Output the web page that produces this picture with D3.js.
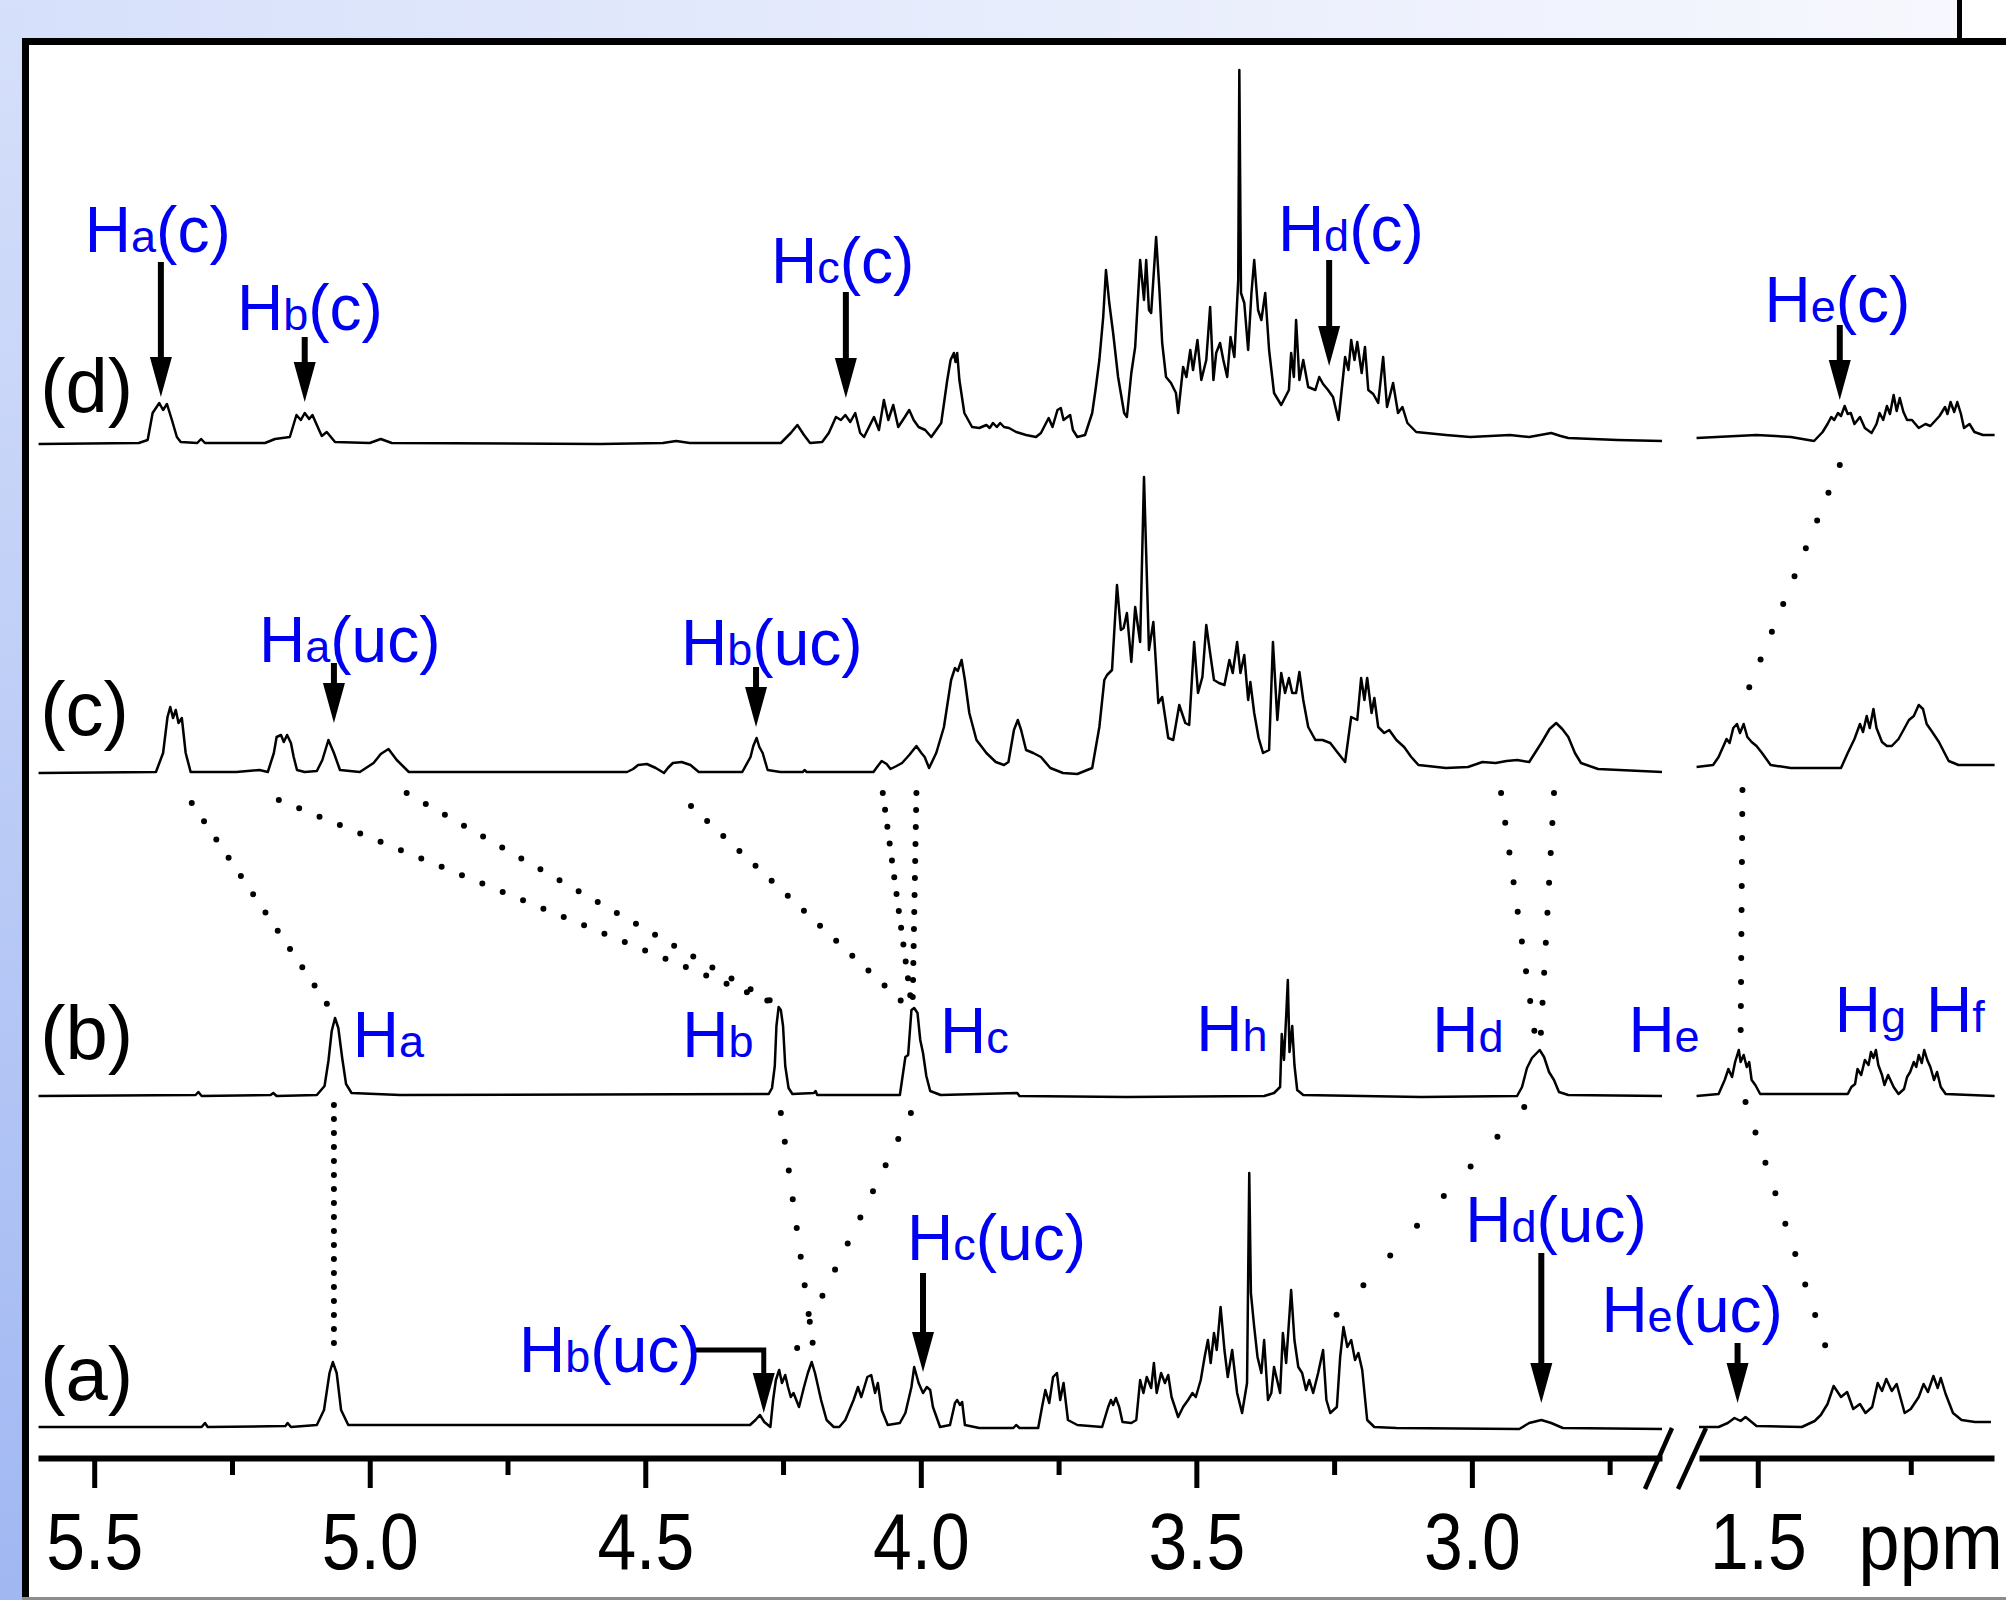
<!DOCTYPE html>
<html><head><meta charset="utf-8">
<script src="https://cdn.jsdelivr.net/npm/d3@7"></script>
<style>
html,body{margin:0;padding:0;background:#fff;}
svg{display:block;}
text{font-family:"Liberation Sans",Arial,Helvetica,sans-serif;}
</style></head><body>
<svg id="chart" width="2006" height="1600"></svg>
<script>
// ---------------- DATA (ppm, intensity a.u.) ----------------
const spectrumNames = ["(a)", "(b)", "(c)", "(d)"];
const majorTicksLeft = [5.5, 5.0, 4.5, 4.0, 3.5, 3.0];
const minorTicksLeft = [5.25, 4.75, 4.25, 3.75, 3.25, 2.75];
const majorTicksRight = [1.5];
const minorTicksRight = [1.25];
const axisUnit = "ppm";

const specD_left = [[5.601,0],[5.419,1],[5.403,4],[5.394,31],[5.382,41],[5.375,34],[5.368,40],[5.359,24],[5.350,7],[5.343,2],[5.313,1],[5.306,5],[5.299,1],[5.190,1],[5.172,5],[5.145,7],[5.133,29],[5.125,24],[5.118,31],[5.110,25],[5.104,29],[5.092,14],[5.087,8],[5.078,12],[5.063,2],[5.000,1],[4.980,5],[4.960,1],[4.582,0],[4.468,1],[4.444,3],[4.419,1],[4.254,1],[4.236,11],[4.224,19],[4.212,9],[4.201,1],[4.179,2],[4.167,11],[4.154,27],[4.145,24],[4.137,29],[4.128,22],[4.119,31],[4.110,11],[4.103,7],[4.094,17],[4.085,27],[4.076,14],[4.067,44],[4.059,24],[4.050,39],[4.041,17],[4.029,27],[4.021,34],[4.013,24],[4.004,17],[3.992,14],[3.981,7],[3.963,21],[3.952,64],[3.946,84],[3.940,91],[3.937,82],[3.934,91],[3.930,64],[3.921,31],[3.907,17],[3.894,16],[3.881,19],[3.875,16],[3.869,21],[3.862,17],[3.856,21],[3.849,17],[3.840,16],[3.827,12],[3.809,9],[3.791,7],[3.782,11],[3.768,26],[3.761,17],[3.752,34],[3.746,36],[3.741,24],[3.729,29],[3.724,14],[3.716,7],[3.702,9],[3.689,31],[3.683,54],[3.676,84],[3.669,127],[3.664,174],[3.658,141],[3.651,111],[3.642,67],[3.631,31],[3.626,27],[3.618,71],[3.611,97],[3.602,184],[3.595,144],[3.591,184],[3.586,134],[3.582,131],[3.573,207],[3.567,154],[3.562,101],[3.555,67],[3.546,61],[3.537,51],[3.533,31],[3.524,77],[3.518,67],[3.511,94],[3.506,74],[3.498,104],[3.491,64],[3.482,84],[3.475,137],[3.469,64],[3.464,91],[3.457,101],[3.451,84],[3.444,67],[3.438,107],[3.431,87],[3.424,164],[3.422,374],[3.419,151],[3.413,141],[3.406,94],[3.400,151],[3.395,184],[3.388,134],[3.382,124],[3.375,151],[3.368,94],[3.359,51],[3.346,39],[3.332,54],[3.328,91],[3.323,67],[3.319,124],[3.313,64],[3.306,84],[3.297,57],[3.284,54],[3.277,67],[3.270,60],[3.261,54],[3.252,47],[3.242,24],[3.230,87],[3.224,74],[3.219,104],[3.213,84],[3.208,102],[3.200,71],[3.194,97],[3.188,54],[3.179,50],[3.170,41],[3.161,87],[3.154,37],[3.143,61],[3.134,31],[3.126,37],[3.117,21],[3.101,12],[3.047,9],[3.003,7],[2.931,9],[2.896,7],[2.876,9],[2.856,11],[2.839,8],[2.825,6],[2.736,4],[2.655,3]];
const specD_right = [[1.600,6],[1.502,9],[1.446,7],[1.408,3],[1.394,12],[1.386,20],[1.380,27],[1.375,24],[1.369,31],[1.364,28],[1.358,38],[1.353,30],[1.348,31],[1.342,20],[1.333,27],[1.325,16],[1.314,11],[1.306,20],[1.301,31],[1.295,24],[1.289,38],[1.284,30],[1.278,49],[1.273,33],[1.268,46],[1.262,32],[1.256,24],[1.248,24],[1.237,16],[1.226,20],[1.218,18],[1.209,24],[1.203,28],[1.194,37],[1.190,30],[1.185,42],[1.179,32],[1.174,42],[1.168,30],[1.163,16],[1.154,20],[1.146,12],[1.132,9],[1.113,9]];

const specC_left = [[5.601,0],[5.388,1],[5.375,20],[5.367,56],[5.362,66],[5.357,55],[5.352,63],[5.347,50],[5.341,55],[5.334,20],[5.325,1],[5.242,1],[5.200,3],[5.185,1],[5.174,20],[5.169,36],[5.161,38],[5.156,31],[5.150,38],[5.143,30],[5.138,16],[5.132,3],[5.118,1],[5.096,2],[5.086,13],[5.075,33],[5.065,20],[5.054,3],[5.018,1],[4.993,10],[4.980,19],[4.966,24],[4.951,13],[4.929,1],[4.533,1],[4.522,4],[4.513,8],[4.497,9],[4.481,5],[4.466,0],[4.459,5],[4.450,10],[4.434,11],[4.418,8],[4.403,1],[4.324,1],[4.309,16],[4.304,27],[4.298,35],[4.293,26],[4.287,20],[4.278,3],[4.255,1],[4.214,1],[4.211,3],[4.207,1],[4.086,1],[4.078,7],[4.071,12],[4.062,9],[4.055,4],[4.044,7],[4.034,10],[4.021,18],[4.008,27],[3.999,20],[3.993,16],[3.985,5],[3.972,20],[3.958,46],[3.945,93],[3.938,105],[3.933,102],[3.926,113],[3.920,93],[3.912,60],[3.899,33],[3.881,20],[3.864,11],[3.849,8],[3.841,11],[3.831,43],[3.824,53],[3.818,43],[3.809,23],[3.796,20],[3.782,16],[3.765,5],[3.742,0],[3.716,-1],[3.689,5],[3.676,46],[3.667,93],[3.662,98],[3.653,103],[3.644,188],[3.637,143],[3.632,145],[3.626,160],[3.618,111],[3.611,166],[3.602,131],[3.595,296],[3.590,200],[3.586,123],[3.578,151],[3.569,70],[3.562,76],[3.551,35],[3.542,33],[3.531,68],[3.520,50],[3.513,48],[3.504,131],[3.497,80],[3.489,96],[3.482,148],[3.475,120],[3.468,93],[3.459,90],[3.449,88],[3.440,113],[3.434,100],[3.426,131],[3.420,100],[3.413,118],[3.406,73],[3.402,91],[3.395,60],[3.387,35],[3.379,20],[3.368,23],[3.361,131],[3.353,53],[3.346,100],[3.339,80],[3.332,95],[3.326,80],[3.319,80],[3.313,101],[3.306,73],[3.297,46],[3.284,33],[3.271,33],[3.257,30],[3.243,20],[3.230,11],[3.219,56],[3.208,53],[3.201,95],[3.195,73],[3.190,95],[3.182,60],[3.177,75],[3.170,46],[3.159,40],[3.150,43],[3.137,33],[3.123,26],[3.110,16],[3.097,8],[3.047,5],[3.007,6],[2.981,11],[2.957,10],[2.937,12],[2.918,13],[2.896,11],[2.874,30],[2.859,44],[2.847,50],[2.836,44],[2.825,36],[2.813,20],[2.802,10],[2.771,4],[2.655,1]];
const specC_right = [[1.600,6],[1.573,8],[1.564,16],[1.556,27],[1.551,34],[1.546,30],[1.540,45],[1.534,49],[1.529,40],[1.523,49],[1.517,36],[1.510,31],[1.502,27],[1.493,20],[1.479,8],[1.446,5],[1.364,5],[1.353,20],[1.342,34],[1.333,49],[1.328,41],[1.322,57],[1.317,45],[1.311,64],[1.306,45],[1.297,31],[1.289,27],[1.281,27],[1.270,34],[1.261,44],[1.253,53],[1.245,57],[1.237,68],[1.230,64],[1.224,49],[1.216,42],[1.204,31],[1.188,12],[1.172,8],[1.113,8]];

const specB_left = [[5.601,0],[5.316,1],[5.311,4],[5.305,0],[5.180,1],[5.175,3],[5.169,0],[5.096,1],[5.082,10],[5.075,35],[5.069,65],[5.063,78],[5.057,68],[5.050,38],[5.043,12],[5.033,3],[4.945,1],[4.276,2],[4.270,8],[4.265,30],[4.262,70],[4.258,89],[4.254,86],[4.250,70],[4.246,30],[4.240,8],[4.233,2],[4.194,3],[4.191,5],[4.188,1],[4.038,1],[4.028,39],[4.023,41],[4.017,86],[4.012,88],[4.006,83],[4.001,56],[3.996,43],[3.990,20],[3.983,5],[3.964,1],[3.825,3],[3.821,0],[3.627,-1],[3.377,0],[3.359,3],[3.348,9],[3.345,62],[3.341,36],[3.337,80],[3.334,116],[3.331,44],[3.326,70],[3.322,31],[3.317,6],[3.306,1],[3.092,-1],[2.918,0],[2.909,9],[2.900,28],[2.891,38],[2.877,46],[2.869,39],[2.860,24],[2.851,16],[2.842,4],[2.825,1],[2.655,0]];
const specB_right = [[1.600,0],[1.564,2],[1.559,9],[1.554,16],[1.548,27],[1.542,19],[1.537,34],[1.531,46],[1.528,34],[1.523,41],[1.518,29],[1.514,34],[1.510,16],[1.504,11],[1.496,2],[1.353,2],[1.347,9],[1.341,12],[1.337,27],[1.331,21],[1.325,36],[1.319,31],[1.315,44],[1.311,38],[1.307,46],[1.303,31],[1.297,21],[1.293,11],[1.287,21],[1.278,9],[1.270,2],[1.261,7],[1.256,19],[1.251,24],[1.245,34],[1.241,29],[1.237,41],[1.232,33],[1.228,46],[1.223,36],[1.218,29],[1.212,16],[1.207,24],[1.201,9],[1.193,2],[1.113,0]];

const specA_left = [[5.601,0],[5.305,0],[5.299,4],[5.294,0],[5.153,1],[5.149,4],[5.143,0],[5.096,2],[5.083,17],[5.073,54],[5.067,65],[5.060,54],[5.052,17],[5.039,2],[4.310,2],[4.300,7],[4.292,12],[4.284,5],[4.273,0],[4.268,27],[4.263,47],[4.257,57],[4.252,44],[4.246,52],[4.241,40],[4.236,30],[4.231,34],[4.221,20],[4.212,40],[4.205,54],[4.198,65],[4.192,54],[4.181,27],[4.171,7],[4.158,0],[4.148,0],[4.137,7],[4.122,27],[4.114,40],[4.108,30],[4.097,50],[4.090,52],[4.083,34],[4.078,44],[4.071,17],[4.060,2],[4.038,4],[4.028,14],[4.017,40],[4.012,60],[4.004,44],[3.996,34],[3.989,40],[3.983,37],[3.978,20],[3.965,0],[3.947,2],[3.938,24],[3.934,27],[3.929,22],[3.925,25],[3.920,2],[3.894,-1],[3.832,-1],[3.827,2],[3.821,-1],[3.787,-1],[3.780,20],[3.774,37],[3.767,24],[3.760,50],[3.753,54],[3.747,27],[3.741,44],[3.733,7],[3.716,2],[3.671,0],[3.660,20],[3.655,27],[3.651,22],[3.646,29],[3.640,20],[3.634,5],[3.618,4],[3.609,7],[3.602,47],[3.596,34],[3.590,50],[3.582,39],[3.577,64],[3.572,34],[3.564,54],[3.557,44],[3.551,52],[3.545,30],[3.533,10],[3.524,20],[3.515,27],[3.507,34],[3.501,30],[3.492,47],[3.485,70],[3.479,87],[3.474,64],[3.468,94],[3.463,77],[3.456,120],[3.449,77],[3.443,50],[3.435,77],[3.426,34],[3.417,14],[3.408,44],[3.404,254],[3.401,134],[3.395,100],[3.389,70],[3.382,54],[3.377,87],[3.370,27],[3.364,34],[3.359,60],[3.348,34],[3.343,94],[3.337,64],[3.328,137],[3.322,87],[3.315,60],[3.308,54],[3.301,37],[3.295,47],[3.288,34],[3.279,54],[3.270,77],[3.264,27],[3.257,14],[3.245,20],[3.239,70],[3.233,100],[3.226,80],[3.219,87],[3.212,67],[3.206,74],[3.199,57],[3.190,7],[3.177,0],[3.137,-1],[2.914,-2],[2.896,4],[2.874,7],[2.856,4],[2.835,-1],[2.655,-2]];
const specA_right = [[1.596,0],[1.564,0],[1.549,4],[1.538,9],[1.528,6],[1.520,10],[1.512,6],[1.502,1],[1.428,0],[1.407,6],[1.397,12],[1.386,23],[1.376,41],[1.364,30],[1.354,35],[1.344,18],[1.333,23],[1.324,14],[1.313,20],[1.304,44],[1.297,36],[1.290,48],[1.281,36],[1.273,43],[1.260,14],[1.250,18],[1.237,30],[1.229,43],[1.222,35],[1.213,51],[1.206,39],[1.201,49],[1.193,33],[1.181,14],[1.167,7],[1.145,5],[1.119,5]];

// peak annotations: [main, subscript, rest, spectrum, ppm, level]
const peakLabels = [
  ["H","a","(c)","d",5.517,192],["H","b","(c)","d",5.241,114],["H","c","(c)","d",4.272,161],
  ["H","d","(c)","d",3.352,193],["H","e","(c)","d",1.489,122],
  ["H","a","(uc)","c",5.201,111],["H","b","(uc)","c",4.435,108],
  ["H","a","","b",5.031,39],["H","b","","b",4.433,39],["H","c","","b",3.965,43],["H","h","","b",3.500,45],
  ["H","d","","b",3.072,44],["H","e","","b",2.716,44],["H","g","","b",1.374,64],["H","f","","b",1.225,64],
  ["H","c","(uc)","a",4.025,167],["H","b","(uc)","a",4.729,55],["H","d","(uc)","a",3.012,185],["H","e","(uc)","a",2.765,95]
];
// arrows: [spectrum, ppm, start level, tip level]
const arrowMarks = [
  ["d",5.379,182,47],["d",5.118,107,42],["d",4.136,152,46],["d",3.259,184,78],["d",1.366,119,44],
  ["c",5.065,110,50],["c",4.299,106,46],
  ["a",3.996,154,55],["a",2.874,174,24],["a",1.533,84,24]
];
// elbow arrow: [spectrum, ppm start, ppm corner, level, tip level]
const elbowArrow = ["a",4.413,4.285,77,14];
// correlation dotted lines: [spec1, ppm1, level1, spec2, ppm2, level2, dot gap]
const correlations = [
  ["c",5.323,-30,"b",5.069,85,22],["c",5.165,-27,"b",4.259,91,22],["c",4.933,-20,"b",4.259,91,22],
  ["c",4.417,-33,"b",4.018,86,22],["c",4.069,-20,"b",4.016,88,17],["c",4.008,-20,"b",4.015,88,17],
  ["c",2.947,-20,"b",2.883,51,30],["c",2.851,-20,"b",2.876,51,30],
  ["d",1.366,-21,"c",1.529,63,30],["c",1.525,-17,"b",1.528,58,24],
  ["b",5.065,-9,"a",5.065,72,14],["b",4.254,-17,"a",4.194,75,29],["b",4.018,-17,"a",4.228,75,29],
  ["b",2.905,-11,"a",3.254,107,40],["b",1.520,-6,"a",1.389,80,32]
];
// series name labels: [text, spectrum, level]
const nameLevels = [["(d)","d",32],["(c)","c",38],["(b)","b",37],["(a)","a",27]];

// ---------------- LAYOUT ----------------
const W = 2006, H = 1600;
const blue = "#0000f2";
const svg = d3.select("#chart");
const defs = svg.append("defs");
const gTop = defs.append("linearGradient").attr("id","gTop").attr("x1","0").attr("x2","1").attr("y1","0").attr("y2","0");
gTop.append("stop").attr("offset","0").attr("stop-color","#d6e0fa");
gTop.append("stop").attr("offset","1").attr("stop-color","#f7f8fe");
const gLeft = defs.append("linearGradient").attr("id","gLeft").attr("x1","0").attr("x2","0").attr("y1","0").attr("y2","1");
gLeft.append("stop").attr("offset","0").attr("stop-color","#d6e0fa");
gLeft.append("stop").attr("offset","1").attr("stop-color","#a0b7f2");

svg.append("rect").attr("width",W).attr("height",H).attr("fill","#fff");
svg.append("rect").attr("x",0).attr("y",0).attr("width",1957).attr("height",40).attr("fill","url(#gTop)");
svg.append("rect").attr("x",0).attr("y",0).attr("width",23).attr("height",H).attr("fill","url(#gLeft)");
svg.append("rect").attr("x",1957).attr("y",0).attr("width",5).attr("height",40).attr("fill","#000");
svg.append("rect").attr("x",22).attr("y",38).attr("width",W-22).attr("height",7).attr("fill","#000");
svg.append("rect").attr("x",22).attr("y",38).attr("width",7).attr("height",H-38).attr("fill","#000");
svg.append("rect").attr("x",22).attr("y",1597).attr("width",W-22).attr("height",3).attr("fill","#8c8c8c");

const axisY = 1458;
const xL = d3.scaleLinear().domain([5.602, 2.655]).range([38, 1662]);
const xR = d3.scaleLinear().domain([1.596, 1.114]).range([1699, 1994]);
const xOf = p => p > 2 ? xL(p) : xR(p);
const baselines = {d:444, c:773, b:1096, a:1427};
const yS = {};
Object.keys(baselines).forEach(k => {
  yS[k] = d3.scaleLinear().domain([0, 100]).range([baselines[k], baselines[k] - 100]);
});

// spectra
const spectra = [
  ["d", specD_left, xL], ["d", specD_right, xR],
  ["c", specC_left, xL], ["c", specC_right, xR],
  ["b", specB_left, xL], ["b", specB_right, xR],
  ["a", specA_left, xL], ["a", specA_right, xR]
];
const gSpec = svg.append("g");
spectra.forEach(([k, data, xs]) => {
  const line = d3.line().x(d => xs(d[0])).y(d => yS[k](d[1]));
  gSpec.append("path").attr("d", line(data)).attr("fill","none")
    .attr("stroke","#000").attr("stroke-width",2.5).attr("stroke-linejoin","round");
});

// dotted correlation lines
const gDots = svg.append("g");
correlations.forEach(([s1,p1,l1,s2,p2,l2,gap]) => {
  gDots.append("line")
    .attr("x1", xOf(p1)).attr("y1", yS[s1](l1))
    .attr("x2", xOf(p2)).attr("y2", yS[s2](l2))
    .attr("stroke","#000").attr("stroke-width",6).attr("stroke-linecap","round")
    .attr("stroke-dasharray", `0 ${gap}`);
});

// arrows
const gArr = svg.append("g");
const headL = 40, headW = 22;
function arrowHead(x, yTip){
  gArr.append("path").attr("d", `M${x-headW/2},${yTip-headL}L${x+headW/2},${yTip-headL}L${x},${yTip}Z`).attr("fill","#000");
}
arrowMarks.forEach(([s,p,l0,l1]) => {
  const x = xOf(p), y0 = yS[s](l0), y1 = yS[s](l1);
  gArr.append("line").attr("x1",x).attr("x2",x).attr("y1",y0).attr("y2",y1-headL+4)
    .attr("stroke","#000").attr("stroke-width",6);
  arrowHead(x, y1);
});
{
  const [s,p0,p1,l,lt] = elbowArrow;
  const xa = xOf(p0), xb = xOf(p1), y = yS[s](l), yt = yS[s](lt);
  gArr.append("path").attr("d", `M${xa},${y}H${xb}V${yt-headL+4}`).attr("fill","none")
    .attr("stroke","#000").attr("stroke-width",5);
  arrowHead(xb, yt);
}

// blue peak labels
const gLab = svg.append("g");
peakLabels.forEach(([m,sub,rest,s,p,l]) => {
  const t = gLab.append("text").attr("x", xOf(p)).attr("y", yS[s](l)).attr("fill", blue).attr("font-size", 64);
  t.append("tspan").text(m);
  t.append("tspan").attr("font-size", 45).text(sub);
  if (rest) t.append("tspan").text(rest);
});

// spectrum names
nameLevels.forEach(([txt,s,l]) => {
  svg.append("text").attr("x", xL(5.598)).attr("y", yS[s](l)).attr("font-size", 76).attr("fill","#000").text(txt);
});

// axes
function drawAxis(xs, majors, minors){
  const gM = svg.append("g").attr("transform", `translate(0,${axisY})`)
    .call(d3.axisBottom(xs).tickValues(majors).tickSize(30).tickSizeOuter(0).tickFormat(d3.format(".1f")));
  gM.select(".domain").attr("stroke","#000").attr("stroke-width",6);
  gM.selectAll(".tick line").attr("stroke","#000").attr("stroke-width",5);
  gM.selectAll(".tick text").attr("y",111).attr("dy",0).attr("font-size",80)
    .attr("transform","scale(0.87,1)")
    .attr("font-family",'"Liberation Sans",Arial,sans-serif').attr("fill","#000");
  const gm = svg.append("g").attr("transform", `translate(0,${axisY})`)
    .call(d3.axisBottom(xs).tickValues(minors).tickSize(17).tickSizeOuter(0).tickFormat(""));
  gm.select(".domain").remove();
  gm.selectAll(".tick line").attr("stroke","#000").attr("stroke-width",5);
}
drawAxis(xL, majorTicksLeft, minorTicksLeft);
drawAxis(xR, majorTicksRight, minorTicksRight);
svg.append("text").attr("transform", `translate(${xR(1.336)},${axisY + 111}) scale(0.93,1)`)
  .attr("font-size", 80).attr("fill","#000").text(axisUnit);

// axis break marks
const xe = xL.range()[1], xs2 = xR.range()[0];
[[xe-17, xe+10],[xs2-21, xs2+7]].forEach(([xb, xt]) => {
  svg.append("line").attr("x1", xb).attr("y1", axisY + 31).attr("x2", xt).attr("y2", axisY - 30)
    .attr("stroke","#000").attr("stroke-width",4.5);
});
</script>
</body></html>
